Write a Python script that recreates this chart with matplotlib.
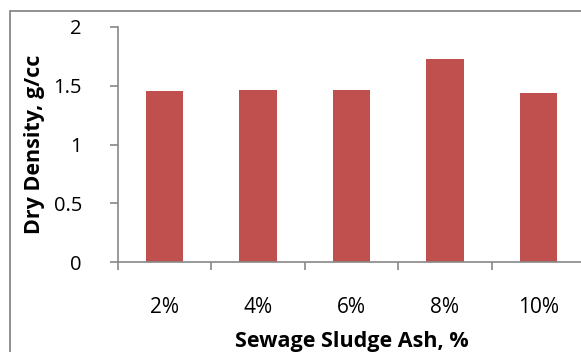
import matplotlib.pyplot as plt
from matplotlib.patches import Rectangle
from matplotlib.ticker import FixedLocator

ash = ["2%", "4%", "6%", "8%", "10%"]
density = [1.45, 1.46, 1.46, 1.73, 1.44]
yticks = [0, 0.5, 1, 1.5, 2]

plt.rcParams['font.family'] = ['Open Sans', 'DejaVu Sans']

fig = plt.figure(figsize=(5.81, 3.52), dpi=100)
ax = fig.add_axes([118 / 581, 1 - 262.3 / 352, 467 / 581, 235.6 / 352])

x = list(range(len(ash)))
ax.bar(x, density, width=0.4, color='#C0504D', zorder=2)

ax.set_xlim(-0.5, len(ash) - 0.5)
ax.set_ylim(0, 2)
ax.set_yticks(yticks)
ax.set_yticklabels([f"{v:g}" for v in yticks])

# boundary ticks on major, labels on minor at category centres
ax.xaxis.set_major_locator(FixedLocator([i - 0.5 for i in range(len(ash) + 1)]))
ax.xaxis.set_major_formatter(plt.NullFormatter())
ax.set_xticks(x, minor=True)
ax.set_xticklabels(ash, minor=True)
ax.tick_params(axis='x', which='minor', length=0, pad=25, labelsize=15)
ax.tick_params(axis='x', which='major', length=6, width=1.2, color='#888888', direction='out')
ax.tick_params(axis='y', length=6, width=1.2, color='#888888', direction='out',
               pad=20, labelsize=14.5)

for s in ['top', 'right']:
    ax.spines[s].set_visible(False)
for s in ['left', 'bottom']:
    ax.spines[s].set_color('#888888')
    ax.spines[s].set_linewidth(1.2)

ax.set_xlabel('Sewage Sludge Ash, %', fontsize=15.5, fontweight='bold', labelpad=9)
ax.set_ylabel('Dry Density, g/cc', fontsize=15.5, fontweight='bold', labelpad=6)

# outer chart border
fig.patches.append(Rectangle((10 / 581, -0.05), 1.1, 1 - 10.5 / 352 + 0.05,
                             transform=fig.transFigure, fill=False,
                             edgecolor='#888888', linewidth=1.3))

fig.savefig('out.png', dpi=100)
